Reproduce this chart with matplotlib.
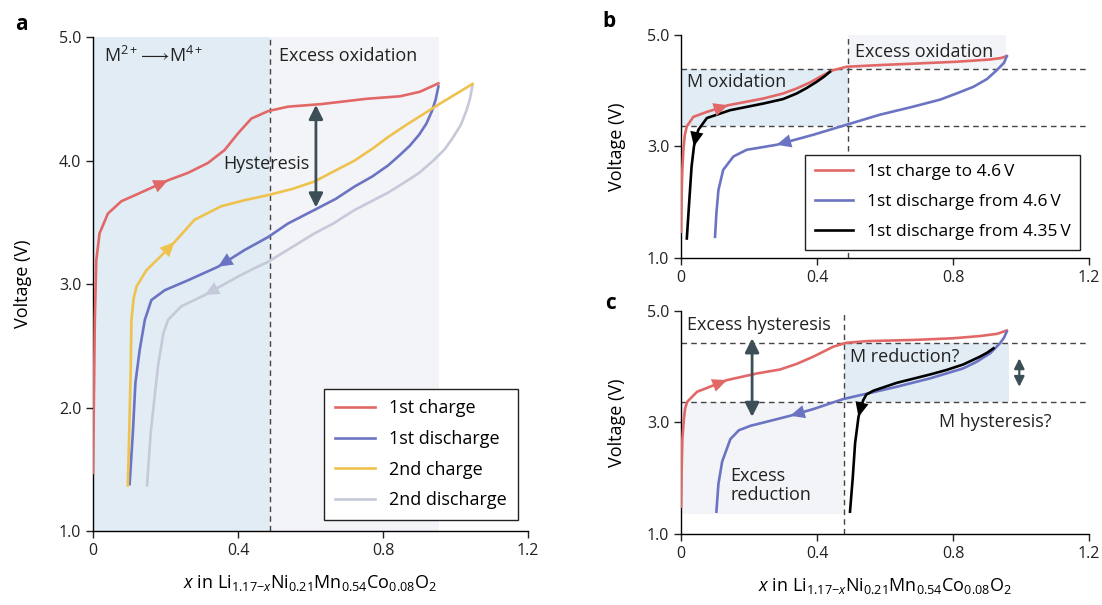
import matplotlib
matplotlib.use("Agg")
import matplotlib.pyplot as plt

plt.rcParams['font.family'] = ['Open Sans', 'DejaVu Sans']
plt.rcParams['mathtext.fontset'] = 'custom'
plt.rcParams['mathtext.rm'] = 'Open Sans'
plt.rcParams['mathtext.it'] = 'Open Sans:italic'
plt.rcParams['lines.solid_joinstyle'] = 'round'

RED = '#e26868'
BLUE = '#6b74c2'
YEL = '#efc24e'
GREY = '#c5c9d9'
SLATE = '#3c4f57'
SHADE_B = '#e1ecf5'
SHADE_G = '#f3f4f8'

# ---- panel a data (x, voltage) ----
a_chg1_x = [0, 0.003, 0.005, 0.009, 0.018, 0.041, 0.078, 0.124, 0.207, 0.262, 0.317, 0.363, 0.40, 0.437, 0.483, 0.538, 0.63, 0.755, 0.847, 0.902, 0.953]
a_chg1_v = [1.47, 2.2, 2.71, 3.19, 3.41, 3.57, 3.67, 3.73, 3.84, 3.90, 3.98, 4.085, 4.22, 4.34, 4.40, 4.436, 4.457, 4.50, 4.52, 4.557, 4.625]
a_dis1_x = [0.953, 0.945, 0.935, 0.92, 0.90, 0.874, 0.845, 0.814, 0.77, 0.722, 0.67, 0.611, 0.538, 0.483, 0.418, 0.345, 0.262, 0.198, 0.161, 0.143, 0.129, 0.117, 0.11, 0.101]
a_dis1_v = [4.60, 4.49, 4.40, 4.30, 4.21, 4.12, 4.04, 3.96, 3.87, 3.79, 3.69, 3.60, 3.49, 3.38, 3.275, 3.14, 3.03, 2.95, 2.87, 2.71, 2.47, 2.2, 1.8, 1.38]
a_chg2_x = [0.096, 0.100, 0.104, 0.106, 0.112, 0.12, 0.147, 0.185, 0.225, 0.28, 0.354, 0.42, 0.483, 0.55, 0.611, 0.663, 0.722, 0.773, 0.814, 0.865, 0.957, 1.047]
a_chg2_v = [1.37, 1.8, 2.3, 2.71, 2.88, 2.98, 3.11, 3.22, 3.34, 3.52, 3.63, 3.68, 3.72, 3.77, 3.83, 3.91, 4.0, 4.10, 4.19, 4.29, 4.46, 4.62]
a_dis2_x = [1.047, 1.04, 1.031, 1.015, 0.994, 0.97, 0.939, 0.90, 0.847, 0.814, 0.755, 0.722, 0.663, 0.611, 0.55, 0.483, 0.44, 0.40, 0.308, 0.244, 0.207, 0.194, 0.179, 0.169, 0.159, 0.149]
a_dis2_v = [4.61, 4.50, 4.41, 4.29, 4.19, 4.09, 4.0, 3.90, 3.80, 3.74, 3.65, 3.60, 3.49, 3.41, 3.30, 3.18, 3.12, 3.06, 2.91, 2.82, 2.71, 2.60, 2.33, 2.06, 1.79, 1.37]

# ---- panel b ----
b_chg_x = [0, 0.002, 0.004, 0.007, 0.011, 0.017, 0.036, 0.076, 0.139, 0.242, 0.30, 0.34, 0.38, 0.409, 0.448, 0.487, 0.585, 0.70, 0.811, 0.909, 0.94, 0.958]
b_chg_v = [1.47, 2.2, 2.6, 2.94, 3.2, 3.36, 3.53, 3.62, 3.74, 3.86, 3.95, 4.04, 4.15, 4.25, 4.37, 4.43, 4.46, 4.49, 4.52, 4.56, 4.585, 4.62]
b_dis_x = [0.958, 0.95, 0.929, 0.90, 0.86, 0.81, 0.762, 0.68, 0.585, 0.487, 0.389, 0.281, 0.193, 0.154, 0.124, 0.11, 0.104, 0.10]
b_dis_v = [4.62, 4.50, 4.37, 4.21, 4.07, 3.95, 3.84, 3.71, 3.57, 3.39, 3.21, 3.03, 2.94, 2.82, 2.58, 2.22, 1.8, 1.38]
b_blk_x = [0.438, 0.42, 0.399, 0.37, 0.34, 0.30, 0.242, 0.144, 0.076, 0.051, 0.042, 0.038, 0.031, 0.024, 0.017]
b_blk_v = [4.34, 4.25, 4.16, 4.05, 3.95, 3.85, 3.77, 3.65, 3.51, 3.30, 3.12, 3.0, 2.64, 2.0, 1.35]

# ---- panel c ----
c_chg_x = [0, 0.002, 0.004, 0.008, 0.012, 0.018, 0.047, 0.135, 0.224, 0.291, 0.34, 0.389, 0.448, 0.487, 0.55, 0.683, 0.80, 0.879, 0.93, 0.958]
c_chg_v = [1.49, 2.2, 2.7, 3.04, 3.25, 3.37, 3.55, 3.76, 3.88, 3.95, 4.05, 4.18, 4.36, 4.43, 4.46, 4.48, 4.51, 4.55, 4.59, 4.65]
c_dis_x = [0.958, 0.95, 0.938, 0.909, 0.87, 0.83, 0.732, 0.634, 0.556, 0.477, 0.389, 0.321, 0.25, 0.204, 0.17, 0.145, 0.121, 0.11, 0.104]
c_dis_v = [4.63, 4.52, 4.42, 4.24, 4.09, 3.97, 3.79, 3.64, 3.53, 3.42, 3.24, 3.12, 3.01, 2.94, 2.86, 2.70, 2.30, 1.90, 1.40]
c_blk_x = [0.919, 0.90, 0.879, 0.83, 0.78, 0.732, 0.634, 0.566, 0.545, 0.536, 0.528, 0.522, 0.512, 0.505, 0.497]
c_blk_v = [4.33, 4.25, 4.18, 4.04, 3.94, 3.86, 3.71, 3.57, 3.50, 3.40, 3.25, 3.10, 2.63, 2.0, 1.40]

x_ticks = [0, 0.4, 0.8, 1.2]
x_ticklabels = ['0', '0.4', '0.8', '1.2']
xlab = r'$x$ in Li$_{1.17\mathrm{-}x}$Ni$_{0.21}$Mn$_{0.54}$Co$_{0.08}$O$_2$'

LW = 1.9


def style(ax, yt, pad):
    ax.set_xlim(0, 1.2)
    ax.set_ylim(1, 5)
    for s in ['top', 'right']:
        ax.spines[s].set_visible(False)
    for s in ['left', 'bottom']:
        ax.spines[s].set_linewidth(1.0)
    ax.set_xticks(x_ticks)
    ax.set_xticklabels(x_ticklabels)
    ax.set_yticks(yt)
    ax.set_yticklabels(['%.1f' % v for v in yt])
    ax.tick_params(direction='out', length=5, width=1, labelsize=11.5, colors='#222222')
    ax.set_ylabel('Voltage (V)', fontsize=13, labelpad=pad)


def head(ax, xs, ys, i, c):
    ax.annotate('', xy=(xs[i + 1], ys[i + 1]), xytext=(xs[i], ys[i]),
                arrowprops=dict(arrowstyle='-|>,head_length=0.7,head_width=0.32',
                                color=c, lw=0, shrinkA=0, shrinkB=0,
                                mutation_scale=15), zorder=5)


def dbl(ax, x, y0, y1, ms=14, lw=2):
    ax.annotate('', xy=(x, y1), xytext=(x, y0),
                arrowprops=dict(arrowstyle='<|-|>,head_length=0.6,head_width=0.3',
                                color=SLATE, lw=lw, shrinkA=0, shrinkB=0,
                                mutation_scale=ms), zorder=6)


fig = plt.figure(figsize=(11.02, 6.05), dpi=100)

# ================= a =================
ax = fig.add_axes([0.0844, 0.1223, 0.3947, 0.8165])
style(ax, [1, 2, 3, 4, 5], 19)
ax.axvspan(0, 0.488, color=SHADE_B, lw=0, zorder=0)
ax.axvspan(0.488, 0.955, color=SHADE_G, lw=0, zorder=0)
ax.plot([0.488, 0.488], [1, 5], ls=(0, (4, 3)), color='#444444', lw=1, zorder=1)
ax.plot(a_chg1_x, a_chg1_v, color=RED, lw=LW, label='1st charge', zorder=3)
ax.plot(a_dis1_x, a_dis1_v, color=BLUE, lw=LW, label='1st discharge', zorder=3)
ax.plot(a_chg2_x, a_chg2_v, color=YEL, lw=LW, label='2nd charge', zorder=3)
ax.plot(a_dis2_x, a_dis2_v, color=GREY, lw=LW, label='2nd discharge', zorder=2)
head(ax, a_chg1_x, a_chg1_v, 7, RED)
head(ax, a_chg2_x, a_chg2_v, 7, YEL)
head(ax, a_dis1_x, a_dis1_v, 14, BLUE)
head(ax, a_dis2_x, a_dis2_v, 17, GREY)
dbl(ax, 0.615, 3.62, 4.45)
ax.text(0.03, 4.85, r'M$^{2+}\!\longrightarrow\!$M$^{4+}$', fontsize=13, va='center', color='#222222')
ax.text(0.512, 4.85, 'Excess oxidation', fontsize=13, va='center', color='#222222')
ax.text(0.36, 3.97, 'Hysteresis', fontsize=13, va='center', color='#222222', zorder=7)
leg = ax.legend(loc='lower right', bbox_to_anchor=(0.977, 0.022), borderaxespad=0,
                fontsize=13, frameon=True, fancybox=False, framealpha=1,
                edgecolor='#222222', handlelength=2.2, labelspacing=0.7, borderpad=0.6)
leg.get_frame().set_linewidth(1.0)
ax.set_xlabel(xlab, fontsize=13, labelpad=10)

# ================= b =================
bx = fig.add_axes([0.618, 0.5736, 0.3702, 0.3686])
style(bx, [1, 3, 5], 15)
bx.fill_between([0, 0.49], 3.36, 4.39, color=SHADE_B, lw=0, zorder=0)
bx.fill_between([0.49, 0.955], 4.39, 5.0, color=SHADE_G, lw=0, zorder=0)
for yv in [3.36, 4.39]:
    bx.plot([0, 1.2], [yv, yv], ls=(0, (4, 3)), color='#444444', lw=1, zorder=1, clip_on=False)
bx.plot([0.49, 0.49], [1, 5], ls=(0, (4, 3)), color='#444444', lw=1, zorder=1)
bx.plot(b_chg_x, b_chg_v, color=RED, lw=LW, label='1st charge to 4.6\u2009V', zorder=3)
bx.plot(b_dis_x, b_dis_v, color=BLUE, lw=LW, label='1st discharge from 4.6\u2009V', zorder=3)
bx.plot(b_blk_x, b_blk_v, color='black', lw=LW, label='1st discharge from 4.35\u2009V', zorder=4)
head(bx, b_chg_x, b_chg_v, 7, RED)
head(bx, b_dis_x, b_dis_v, 10, BLUE)
head(bx, b_blk_x, b_blk_v, 10, 'black')
bx.text(0.018, 4.16, 'M oxidation', fontsize=13, va='center', color='#222222')
bx.text(0.512, 4.70, 'Excess oxidation', fontsize=13, va='center', color='#222222')
leg = bx.legend(loc='lower right', bbox_to_anchor=(0.978, 0.036), borderaxespad=0,
                fontsize=12.5, frameon=True, fancybox=False, framealpha=1,
                edgecolor='#222222', handlelength=2.2, labelspacing=0.8, borderpad=0.55)
leg.get_frame().set_linewidth(1.0)
leg.set_zorder(8)

# ================= c =================
cx = fig.add_axes([0.618, 0.1174, 0.3702, 0.3686])
style(cx, [1, 3, 5], 15)
cx.fill_between([0, 0.48], 1.35, 3.37, color=SHADE_G, lw=0, zorder=0)
cx.fill_between([0.48, 0.966], 3.37, 4.42, color=SHADE_B, lw=0, zorder=0)
for yv in [3.37, 4.42]:
    cx.plot([0, 1.2], [yv, yv], ls=(0, (4, 3)), color='#444444', lw=1, zorder=1, clip_on=False)
cx.plot([0.48, 0.48], [1, 5], ls=(0, (4, 3)), color='#444444', lw=1, zorder=1)
cx.plot(c_chg_x, c_chg_v, color=RED, lw=LW, zorder=3)
cx.plot(c_dis_x, c_dis_v, color=BLUE, lw=LW, zorder=3)
cx.plot(c_blk_x, c_blk_v, color='black', lw=LW, zorder=4)
head(cx, c_chg_x, c_chg_v, 6, RED)
head(cx, c_dis_x, c_dis_v, 10, BLUE)
head(cx, c_blk_x, c_blk_v, 10, 'black')
dbl(cx, 0.209, 3.1, 4.51)
dbl(cx, 0.995, 3.64, 4.15, ms=10, lw=1.6)
cx.text(0.018, 4.74, 'Excess hysteresis', fontsize=13, va='center', color='#222222')
cx.text(0.496, 4.18, 'M reduction?', fontsize=13, va='center', color='#222222')
cx.text(0.758, 3.01, 'M hysteresis?', fontsize=13, va='center', color='#222222')
cx.text(0.145, 1.87, 'Excess\nreduction', fontsize=13, va='center', color='#222222',
        linespacing=1.1)
cx.set_xlabel(xlab, fontsize=13, labelpad=10)

fig.text(0.014, 0.95, 'a', fontsize=15, fontweight='bold')
fig.text(0.547, 0.955, 'b', fontsize=15, fontweight='bold')
fig.text(0.549, 0.49, 'c', fontsize=15, fontweight='bold')

fig.savefig('out.png', dpi=100)
